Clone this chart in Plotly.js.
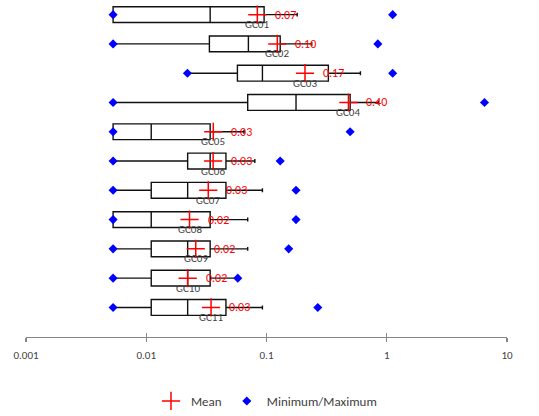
<!DOCTYPE html>
<html>
<head>
<meta charset="utf-8">
<script src="https://cdn.plot.ly/plotly-3.0.1.min.js"></script>
<style>html,body{margin:0;padding:0;background:#fff;}#chart{width:539px;height:416px;}</style>
</head>
<body>
<div id="chart"></div>
<script>
const categories = ['GC01','GC02','GC03','GC04','GC05','GC06','GC07','GC08','GC09','GC10','GC11'];
const q1Vals      = [0.0053, 0.0335, 0.0573, 0.0698, 0.0053, 0.0221, 0.011, 0.0053, 0.011, 0.011, 0.011];
const medianVals  = [0.034, 0.0707, 0.0925, 0.176, 0.011, 0.034, 0.0221, 0.011, 0.0221, 0.0221, 0.0221];
const q3Vals      = [0.0955, 0.13, 0.327, 0.496, 0.034, 0.046, 0.046, 0.034, 0.034, 0.034, 0.046];
const whiskerHigh = [0.18, 0.238, 0.604, 0.85, 0.065, 0.08, 0.0925, 0.0698, 0.0698, 0.057, 0.0925];
const meanVals    = [0.0839, 0.123, 0.209, 0.48, 0.0361, 0.036, 0.0328, 0.0229, 0.0258, 0.0221, 0.0346];
const minVals     = [0.0053, 0.0053, 0.022, 0.0053, 0.0053, 0.0053, 0.0053, 0.0053, 0.0053, 0.0053, 0.0053];
const maxVals     = [1.12, 0.843, 1.12, 6.5, 0.496, 0.13, 0.176, 0.176, 0.153, 0.0577, 0.267];
const meanLabels  = ['0.07','0.10','0.17','0.40','0.03','0.03','0.03','0.02','0.02','0.02','0.03'];
const tickVals    = [0.001, 0.01, 0.1, 1, 10];
const tickText    = ['0.001','0.01','0.1','1','10'];

const FONT = 'Carlito, Lato, sans-serif';

const boxTrace = {
  type: 'box', orientation: 'h',
  y: categories,
  q1: q1Vals, median: medianVals, q3: q3Vals,
  lowerfence: minVals, upperfence: whiskerHigh,
  boxpoints: false,
  fillcolor: '#ffffff',
  line: {color: '#111111', width: 1.4},
  width: 0.54,
  whiskerwidth: 0.25,
  showlegend: false,
  hoverinfo: 'skip'
};

const meanTrace = {
  type: 'scatter', mode: 'markers', name: 'Mean',
  x: meanVals, y: categories,
  marker: {symbol: 'cross-thin-open', size: 13, color: '#ff0000', line: {color: '#ff0000', width: 1.5}},
  cliponaxis: false
};

const mmX = [], mmY = [];
categories.forEach((c, i) => { mmX.push(minVals[i]); mmY.push(c); mmX.push(maxVals[i]); mmY.push(c); });
const minMaxTrace = {
  type: 'scatter', mode: 'markers', name: 'Minimum/Maximum',
  x: mmX, y: mmY,
  marker: {symbol: 'diamond', size: 7, color: '#0000ff'},
  cliponaxis: false
};

// invisible trace so the overlaid tick axis (inside ticks) is drawn
const tickHelper = {type: 'scatter', mode: 'markers', x: [meanVals[0]], y: [categories[0]],
  xaxis: 'x2', yaxis: 'y', marker: {opacity: 0}, showlegend: false, hoverinfo: 'skip'};

const annotations = [];
categories.forEach((c, i) => {
  annotations.push({
    x: Math.log10(meanVals[i]), y: c, xref: 'x', yref: 'y',
    text: meanLabels[i], showarrow: false, xanchor: 'left', yanchor: 'middle',
    xshift: 16, font: {family: FONT, size: 12, color: '#ff0000'}
  });
  annotations.push({
    x: Math.log10(meanVals[i]), y: c, xref: 'x', yref: 'y',
    text: c, showarrow: false, xanchor: 'center', yanchor: 'middle',
    yshift: -10, font: {family: FONT, size: 11, color: '#404040'}
  });
});

const layout = {
  width: 539, height: 416,
  margin: {l: 26, r: 32, t: 0, b: 78},
  paper_bgcolor: '#ffffff', plot_bgcolor: '#ffffff',
  font: {family: FONT, size: 11, color: '#404040'},
  showlegend: true,
  legend: {orientation: 'h', x: 0.5, xanchor: 'center', y: -0.19, yanchor: 'middle',
           font: {family: FONT, size: 13, color: '#404040'}, itemwidth: 30, tracegroupgap: 0},
  xaxis: {
    type: 'log', range: [-3, 1],
    tickvals: tickVals, ticktext: tickText,
    showline: true, linecolor: '#868686', linewidth: 1.2,
    ticks: 'outside', ticklen: 4, tickcolor: '#868686', tickwidth: 1.2,
    ticklabelstandoff: 4,
    showgrid: false, zeroline: false,
    tickfont: {family: FONT, size: 11, color: '#404040'}
  },
  xaxis2: {
    type: 'log', range: [-3, 1], overlaying: 'x', anchor: 'y', side: 'bottom',
    tickvals: tickVals, showticklabels: false,
    ticks: 'inside', ticklen: 4, tickcolor: '#868686', tickwidth: 1.2,
    showgrid: false, zeroline: false, showline: false
  },
  yaxis: {
    type: 'category', categoryarray: categories, categoryorder: 'array',
    range: [11.01, -0.5],
    showticklabels: false, showgrid: false, zeroline: false, showline: false, ticks: ''
  },
  annotations: annotations
};

Plotly.newPlot('chart', [boxTrace, meanTrace, minMaxTrace, tickHelper], layout, {displayModeBar: false, staticPlot: true});
</script>
</body>
</html>
